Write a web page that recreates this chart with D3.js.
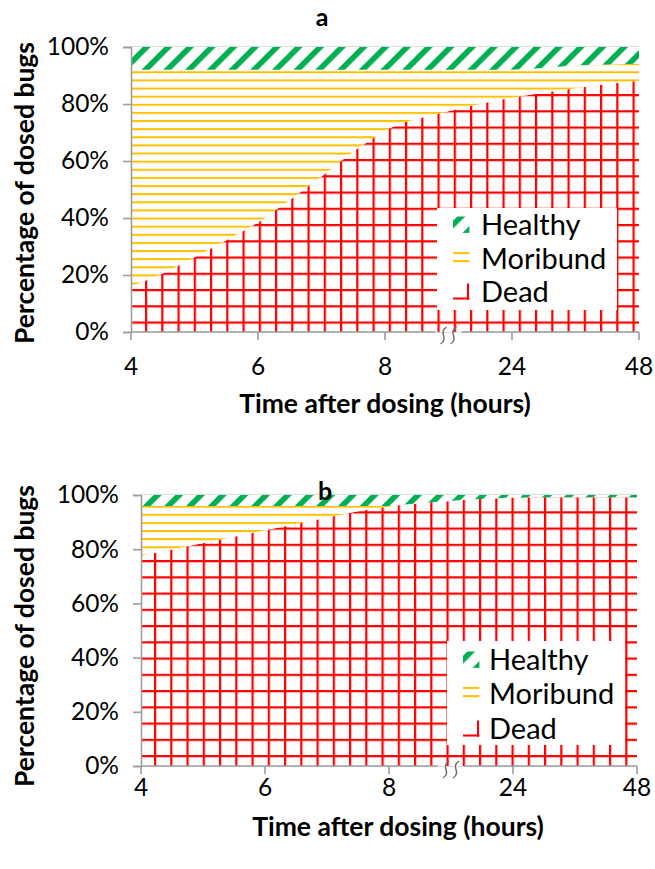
<!DOCTYPE html>
<html>
<head>
<meta charset="utf-8">
<script src="https://cdn.jsdelivr.net/npm/d3@7"></script>
<style>
  html, body { margin: 0; padding: 0; background: #fff; }
  svg { display: block; font-family: Lato, "Open Sans", sans-serif; }
</style>
</head>
<body>
<svg id="chart" width="655" height="869"></svg>
<script>
// Time points (hours after dosing) and axis labels
const hours = [4, 4.5, 5, 5.5, 6, 6.5, 7, 7.5, 8, 10, 12, 14, 16, 18, 20, 22, 24, 30, 36, 42, 48];
const hourTicks = [4, 6, 8, 24, 48];
const pctTicks = [0, 20, 40, 60, 80, 100];
const seriesNames = ["Dead", "Moribund", "Healthy"];

// Panel a: percentage of dosed bugs in each state
const deadA     = [16.0, 20.5, 26.2, 32.2, 38.4, 46.3, 54.6, 63.3, 70.8, 73.2, 74.8, 76.1, 77.5, 78.8, 80.1, 81.2, 82.2, 84.0, 85.5, 87.0, 88.2];
const moribundA = [76.0, 71.5, 65.8, 59.8, 53.6, 45.7, 37.4, 28.7, 21.2, 18.8, 17.2, 15.9, 14.5, 13.2, 11.9, 10.8, 9.8, 8.6, 8.1, 6.9, 5.9];
const healthyA  = [8.0, 8.0, 8.0, 8.0, 8.0, 8.0, 8.0, 8.0, 8.0, 8.0, 8.0, 8.0, 8.0, 8.0, 8.0, 8.0, 8.0, 7.4, 6.4, 6.1, 5.9];

// Panel b
const deadB     = [77.6, 79.9, 82.3, 84.6, 87.0, 89.3, 91.7, 94.0, 95.8, 96.5, 97.0, 97.4, 97.8, 98.3, 98.5, 98.8, 99.1, 99.2, 99.2, 99.2, 99.2];
const moribundB = [18.3, 16.0, 13.6, 11.3, 8.9, 6.6, 4.2, 1.9, 0.1, 0, 0, 0, 0, 0, 0, 0, 0, 0, 0, 0, 0];
const healthyB  = [4.1, 4.1, 4.1, 4.1, 4.1, 4.1, 4.1, 4.1, 4.1, 3.5, 3.0, 2.6, 2.2, 1.7, 1.5, 1.2, 0.9, 0.8, 0.8, 0.8, 0.8];

const colors = { Dead: "#FF0000", Moribund: "#FFC000", Healthy: "#00B050" };
const axisGray = "#9d9d9d";

const svg = d3.select("#chart");
const defs = svg.append("defs");

// Hatch fills: red grid for dead, yellow horizontal lines for moribund,
// green wide upward diagonals for healthy.
function makePatterns(id, o) {
  const g = o.gridSize || 16.25;
  const dead = defs.append("pattern").attr("id", id + "-Dead")
    .attr("patternUnits", "userSpaceOnUse")
    .attr("x", o.gridX).attr("y", o.gridY).attr("width", g).attr("height", g);
  dead.append("rect").attr("width", g).attr("height", g).attr("fill", "#fff");
  dead.append("rect").attr("x", 0).attr("y", 0).attr("width", 2.2).attr("height", g).attr("fill", colors.Dead);
  dead.append("rect").attr("x", 0).attr("y", 0).attr("width", g).attr("height", 2.2).attr("fill", colors.Dead);

  const mor = defs.append("pattern").attr("id", id + "-Moribund")
    .attr("patternUnits", "userSpaceOnUse")
    .attr("x", 0).attr("y", o.lineY).attr("width", 16.25).attr("height", 8.125);
  mor.append("rect").attr("width", 16.25).attr("height", 8.125).attr("fill", "#fff");
  mor.append("rect").attr("y", 0).attr("width", 16.25).attr("height", 2).attr("fill", colors.Moribund);

  const p = 15.35;
  const hea = defs.append("pattern").attr("id", id + "-Healthy")
    .attr("patternUnits", "userSpaceOnUse")
    .attr("patternTransform", "rotate(45)")
    .attr("x", o.stripeU).attr("y", 0).attr("width", p).attr("height", p);
  hea.append("rect").attr("width", p).attr("height", p).attr("fill", "#fff");
  hea.append("rect").attr("width", 5.6).attr("height", p).attr("fill", colors.Healthy);
}

const panels = [
  {
    id: "a", title: "a", dead: deadA, moribund: moribundA, healthy: healthyA,
    xRange: [131, 258, 385, 512, 639], yRange: [332, 47],
    pat: { gridX: 145, gridY: 289, lineY: 71.3, stripeU: 11.3 },
    swatch: { gridSize: 40, gridX: 14, gridY: 14, lineY: 1.5, stripeU: 3 },
    titleBase: 26, titleX: 322,
    xTitle: { x: 385, y: 404 }, yTitle: { x: 25, y: 193 },
    xLabelY: 366,
    legend: { x: 437, y: 208, w: 180, h: 102, rows: [225, 259, 292], symX: 453, textX: 481 }
  },
  {
    id: "b", title: "b", dead: deadB, moribund: moribundB, healthy: healthyB,
    xRange: [141, 265, 389, 513, 637], yRange: [766, 495],
    pat: { gridX: 154, gridY: 511.3, lineY: 505.7, stripeU: 13.5 },
    swatch: { gridSize: 40, gridX: 14, gridY: 14, lineY: 1.5, stripeU: 3 },
    titleBase: 500, titleX: 325,
    xTitle: { x: 398, y: 827 }, yTitle: { x: 25, y: 636 },
    xLabelY: 787,
    legend: { x: 447, y: 641, w: 178, h: 104, rows: [660, 694, 729], symX: 463, textX: 489 }
  }
];

panels.forEach(P => {
  makePatterns("p" + P.id, P.pat);
  makePatterns("s" + P.id, P.swatch);

  const x = d3.scaleLinear().domain(hourTicks).range(P.xRange);
  const y = d3.scaleLinear().domain([0, 100]).range(P.yRange);

  const rows = hours.map((h, i) => ({ hour: h, Dead: P.dead[i], Moribund: P.moribund[i], Healthy: P.healthy[i] }));
  const stacked = d3.stack().keys(seriesNames)(rows);

  const g = svg.append("g");

  // horizontal gridlines (only the 100% line stays visible above the fills)
  g.selectAll("line.grid").data(pctTicks).join("line")
    .attr("x1", x.range()[0]).attr("x2", x.range()[x.range().length - 1])
    .attr("y1", d => y(d)).attr("y2", d => y(d))
    .attr("stroke", "#d0d0d0").attr("stroke-width", 1.3);

  const area = d3.area()
    .x(d => x(d.data.hour))
    .y0(d => y(d[0]))
    .y1(d => y(d[1]));

  g.selectAll("path.layer").data(stacked).join("path")
    .attr("class", "layer")
    .attr("d", area)
    .attr("fill", d => `url(#p${P.id}-${d.key})`);

  // y axis
  const yAxis = d3.axisLeft(y).tickValues(pctTicks).tickFormat(d => d + "%").tickSize(8).tickPadding(14);
  const ya = g.append("g").attr("transform", `translate(${x.range()[0]},0)`).call(yAxis);
  ya.select(".domain").attr("stroke", axisGray).attr("stroke-width", 1.6);
  ya.selectAll(".tick line").attr("stroke", axisGray).attr("stroke-width", 1.6);
  ya.selectAll(".tick text").attr("font-size", 24.5).attr("fill", "#000").attr("font-family", "Lato, sans-serif");

  // x axis with a break between 8 and 24 hours
  const x0 = y(0);
  const xBreak = (x(8) + x(24)) / 2;
  const gap = 13;
  const xa = g.append("g");
  xa.append("line").attr("x1", x.range()[0]).attr("x2", xBreak - gap).attr("y1", x0).attr("y2", x0)
    .attr("stroke", axisGray).attr("stroke-width", 1.6);
  xa.append("line").attr("x1", xBreak + gap).attr("x2", x.range()[4]).attr("y1", x0).attr("y2", x0)
    .attr("stroke", axisGray).attr("stroke-width", 1.6);
  xa.selectAll("line.tick").data(hourTicks).join("line").attr("class", "tick")
    .attr("x1", d => x(d)).attr("x2", d => x(d)).attr("y1", x0).attr("y2", x0 + 8)
    .attr("stroke", axisGray).attr("stroke-width", 1.6);
  xa.selectAll("text").data(hourTicks).join("text")
    .attr("x", d => x(d)).attr("y", P.xLabelY).attr("dy", "0.35em")
    .attr("text-anchor", "middle").attr("font-size", 24.5).text(d => d);
  // break marks
  [-5, 5].forEach(dx => {
    const cx = xBreak + dx;
    xa.append("path")
      .attr("d", `M${cx + 3},${x0 - 5} C${cx - 6},${x0 + 1} ${cx + 6},${x0 + 6} ${cx - 3},${x0 + 12}`)
      .attr("fill", "none").attr("stroke", "#6a6a6a").attr("stroke-width", 1.4);
  });

  // legend
  const L = P.legend;
  const lg = g.append("g");
  lg.append("rect").attr("x", L.x).attr("y", L.y).attr("width", L.w).attr("height", L.h).attr("fill", "#fff");
  const legendOrder = ["Healthy", "Moribund", "Dead"];
  legendOrder.forEach((k, i) => {
    const cy = L.rows[i];
    const sg = lg.append("g").attr("transform", `translate(${L.symX},${cy - 8.5})`);
    sg.append("rect").attr("width", 16.4).attr("height", 16.4).attr("fill", `url(#s${P.id}-${k})`);
    lg.append("text").attr("x", L.textX).attr("y", cy).attr("dy", "0.36em")
      .attr("font-size", 29).attr("fill", "#000").text(k);
  });

  // titles
  g.append("text").attr("x", P.titleX).attr("y", P.titleBase)
    .attr("text-anchor", "middle").attr("font-weight", "bold").attr("font-size", 25).text(P.title);
  g.append("text").attr("x", P.xTitle.x).attr("y", P.xTitle.y).attr("dy", "0.35em")
    .attr("text-anchor", "middle").attr("font-weight", "bold").attr("font-size", 26.5)
    .text("Time after dosing (hours)");
  g.append("text").attr("transform", `translate(${P.yTitle.x},${P.yTitle.y}) rotate(-90)`)
    .attr("dy", "0.35em").attr("text-anchor", "middle").attr("font-weight", "bold").attr("font-size", 26.5)
    .text("Percentage of dosed bugs");
});
</script>
</body>
</html>
